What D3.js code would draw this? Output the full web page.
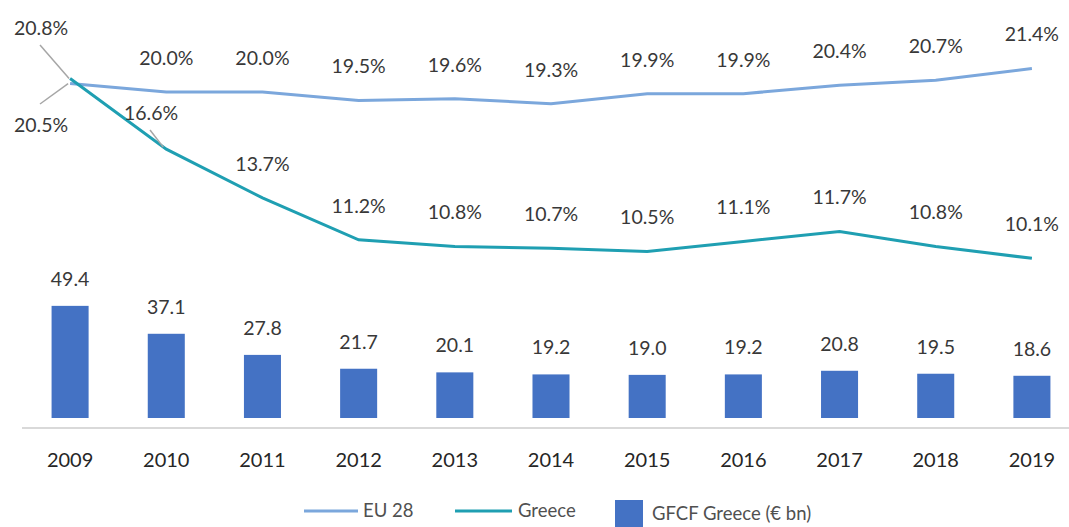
<!DOCTYPE html>
<html><head><meta charset="utf-8">
<script src="https://cdn.jsdelivr.net/npm/d3@7"></script>
<style>
html,body{margin:0;padding:0;background:#fff;}
svg{display:block;font-family:Lato,"Open Sans",sans-serif;}
</style></head>
<body>
<svg id="chart" width="1069" height="527"></svg>
<script>
const years = ["2009","2010","2011","2012","2013","2014","2015","2016","2017","2018","2019"];
const eu28 = [20.5,20.0,20.0,19.5,19.6,19.3,19.9,19.9,20.4,20.7,21.4];
const greece = [20.8,16.6,13.7,11.2,10.8,10.7,10.5,11.1,11.7,10.8,10.1];
const gfcf = [49.4,37.1,27.8,21.7,20.1,19.2,19.0,19.2,20.8,19.5,18.6];
const legendLabels = ["EU 28","Greece","GFCF Greece (€ bn)"];

const svg = d3.select("#chart");
const x = d3.scaleBand().domain(years).range([22,1080]).paddingInner(0.615).paddingOuter(0.3075);
const xc = d => x(d) + x.bandwidth()/2;
const yLine = d3.scaleLinear().domain([0,25]).range([428,8]);
const yBar = d3.scaleLinear().domain([0,50]).range([418,304.5]);

const C_EU="#7ba7dc", C_GR="#1f9fb2", C_BAR="#4472c4", C_TXT="#383838";

// bars
svg.selectAll("rect.bar").data(gfcf).join("rect").attr("class","bar")
  .attr("x",(d,i)=>x(years[i])).attr("width",x.bandwidth())
  .attr("y",d=>yBar(d)).attr("height",d=>yBar(0)-yBar(d)).attr("fill",C_BAR);

// axis
const axis = d3.axisBottom(x).tickSize(0).tickPadding(0);
const ag = svg.append("g").attr("transform","translate(0,428)").call(axis);
ag.select(".domain").attr("stroke","#d9d9d9").attr("stroke-width",2).attr("d","M22,0H1069");
ag.selectAll("text").attr("font-size",20).attr("fill","#262626").attr("font-family","Lato").attr("dy",null).attr("y",39);

// bar labels
svg.selectAll("text.bl").data(gfcf).join("text").attr("class","bl")
  .attr("x",(d,i)=>xc(years[i])).attr("y",d=>yBar(d)-27).attr("dy","0.35em")
  .attr("text-anchor","middle").attr("font-size",19.5).attr("fill",C_TXT).text(d=>d.toFixed(1));

// lines
const line = d3.line().x((d,i)=>xc(years[i])).y(d=>yLine(d));
svg.append("path").datum(eu28).attr("d",line).attr("fill","none").attr("stroke",C_EU).attr("stroke-width",3);
svg.append("path").datum(greece).attr("d",line).attr("fill","none").attr("stroke",C_GR).attr("stroke-width",3);

// line labels
const pct = d=>d.toFixed(1)+"%";
const FS = 19.5;
eu28.forEach((v,i)=>{ if(i===0) return;
  svg.append("text").attr("x",xc(years[i])).attr("y",yLine(v)-34).attr("dy","0.35em")
   .attr("text-anchor","middle").attr("font-size",FS).attr("fill",C_TXT).text(pct(v));});
greece.forEach((v,i)=>{ if(i<2) return;
  svg.append("text").attr("x",xc(years[i])).attr("y",yLine(v)-34).attr("dy","0.35em")
   .attr("text-anchor","middle").attr("font-size",FS).attr("fill",C_TXT).text(pct(v));});

// special labels with leader lines
const p0 = [xc(years[0]), yLine(greece[0])];
const pe = [xc(years[0]), yLine(eu28[0])];
const p1 = [xc(years[1]), yLine(greece[1])];
svg.append("line").attr("x1",40).attr("y1",45).attr("x2",p0[0]-1).attr("y2",p0[1]).attr("stroke","#a6a6a6").attr("stroke-width",1.5);
svg.append("line").attr("x1",40).attr("y1",104).attr("x2",pe[0]-2).attr("y2",pe[1]).attr("stroke","#a6a6a6").attr("stroke-width",1.5);
svg.append("line").attr("x1",150).attr("y1",130).attr("x2",p1[0]-3).attr("y2",p1[1]-2).attr("stroke","#a6a6a6").attr("stroke-width",1.5);
svg.append("text").attr("x",41).attr("y",28).attr("dy","0.35em").attr("text-anchor","middle").attr("font-size",FS).attr("fill",C_TXT).text(pct(greece[0]));
svg.append("text").attr("x",41).attr("y",125).attr("dy","0.35em").attr("text-anchor","middle").attr("font-size",FS).attr("fill",C_TXT).text(pct(eu28[0]));
svg.append("text").attr("x",151).attr("y",113).attr("dy","0.35em").attr("text-anchor","middle").attr("font-size",FS).attr("fill",C_TXT).text(pct(greece[1]));

// legend
const lg = svg.append("g").attr("font-size",18.5).attr("fill","#505050");
lg.append("line").attr("x1",304).attr("x2",358).attr("y1",511).attr("y2",511).attr("stroke",C_EU).attr("stroke-width",3);
lg.append("text").attr("x",363).attr("y",511).attr("dy","0.35em").text(legendLabels[0]);
lg.append("line").attr("x1",455).attr("x2",512).attr("y1",511).attr("y2",511).attr("stroke",C_GR).attr("stroke-width",3);
lg.append("text").attr("x",518).attr("y",511).attr("dy","0.35em").text(legendLabels[1]);
lg.append("rect").attr("x",615).attr("y",500).attr("width",28).attr("height",28).attr("fill",C_BAR);
lg.append("text").attr("x",652).attr("y",514).attr("dy","0.35em").text(legendLabels[2]);
</script>
</body></html>
